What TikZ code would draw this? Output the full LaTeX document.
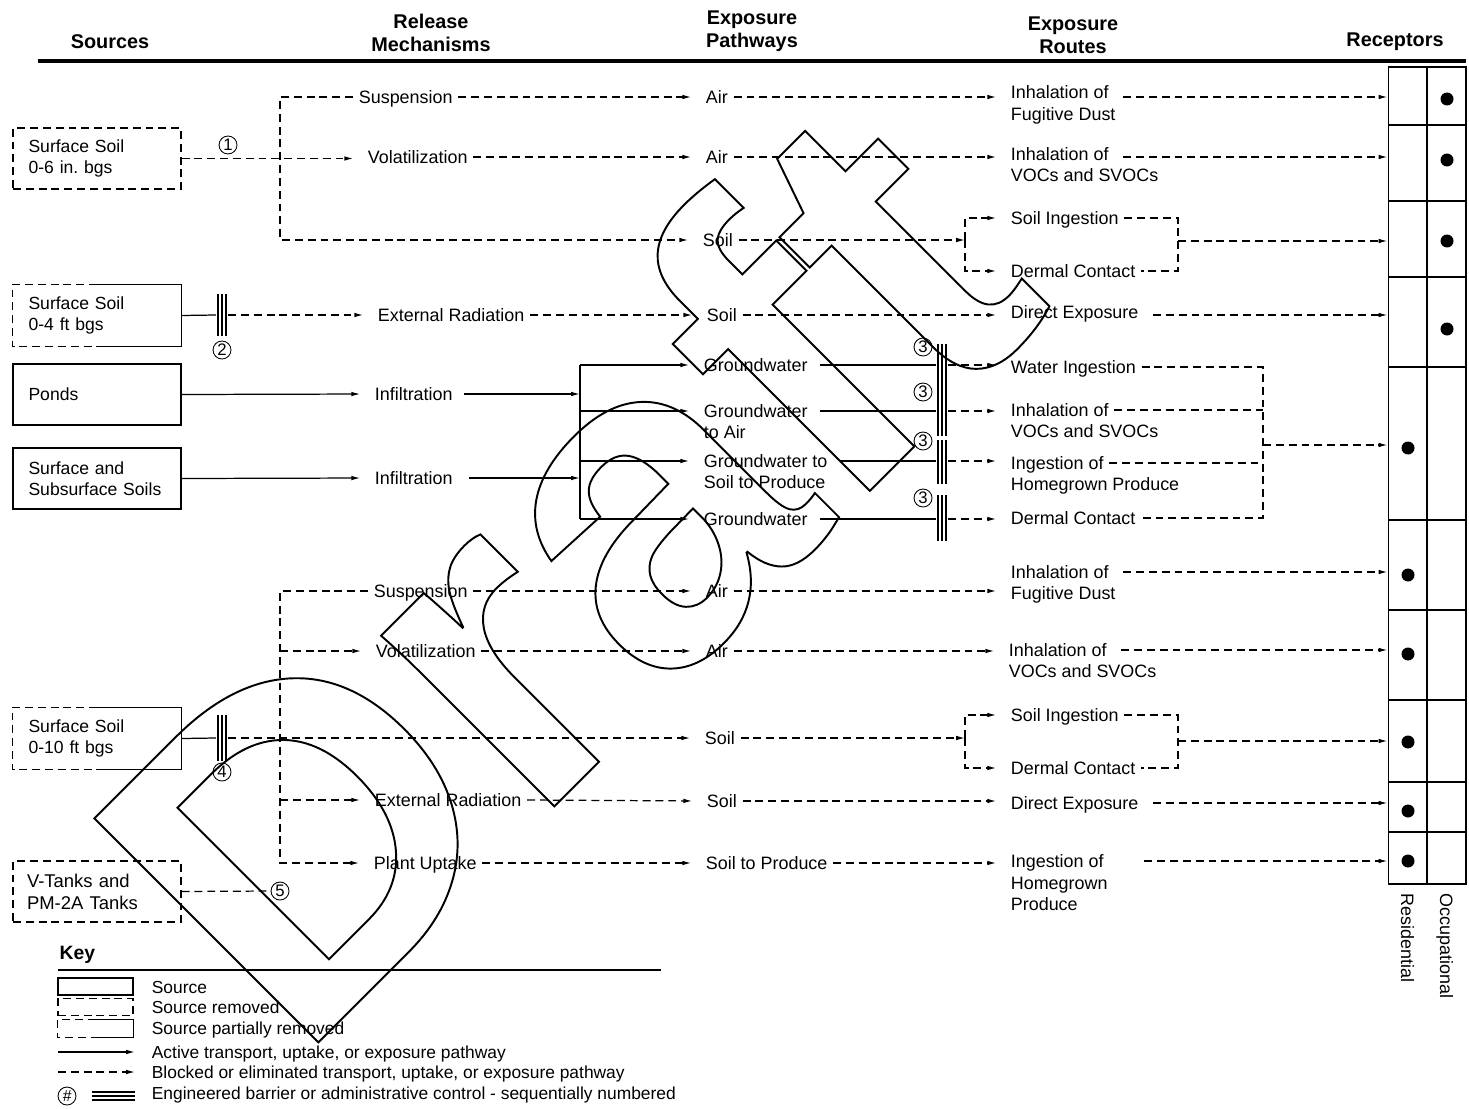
\documentclass[tikz,border=0pt]{standalone}
\usepackage{fontspec}
\setmainfont{Liberation Sans}
\usetikzlibrary{arrows.meta,positioning}
\newcommand\outlinetext[1]{\special{pdf:literal direct 1 Tr 1.1 w}#1\special{pdf:literal direct 0 Tr}}

\tikzset{
  lbl/.style={anchor=west, inner xsep=3pt, inner ysep=0pt, text height=8pt, text depth=0.8pt, font=\fontsize{10.2}{12.2}\selectfont},
  hdr/.style={align=center, font=\fontsize{11.3}{13}\selectfont\bfseries},
  src/.style={draw, minimum width=3.36cm, minimum height=1.22cm, text width=2.74cm, inner xsep=0.31cm, align=left, font=\fontsize{10}{12}\selectfont},
  srcd/.style={src, dsh},
  srcp/.style={src, draw=none},
  dsh/.style={dash pattern=on 4.5pt off 2.8pt},
  ar/.style={-{Latex[length=5pt,width=2.6pt]}},
  arl/.style={ar, shorten >=5pt},
  torec/.style={dsh, ar, shorten <=5pt},
  num/.style={circle, draw, line width=0.5pt, inner sep=0pt, minimum size=0.36cm, font=\fontsize{9.5}{9.5}\selectfont},
  bar/.style={minimum width=0.22cm, inner sep=0pt, path picture={
      \foreach \k in {-1,0,1}
        \draw[line width=1pt] ([xshift=\k*2.3pt]path picture bounding box.north) -- ([xshift=\k*2.3pt]path picture bounding box.south);}},
  barh/.style={minimum height=0.22cm, inner sep=0pt, path picture={
      \foreach \k in {-1,0,1}
        \draw[line width=1pt] ([yshift=\k*2.3pt]path picture bounding box.west) -- ([yshift=\k*2.3pt]path picture bounding box.east);}},
  cell/.style={draw, line width=0.6pt, minimum width=0.78cm, inner sep=0pt},
  dot/.style={circle, fill, inner sep=0pt, minimum size=0.26cm},
  keybox/.style={minimum width=1.5cm, minimum height=0.34cm, inner sep=0pt},
  keytxt/.style={lbl, font=\fontsize{9.9}{12}\selectfont}
}

\begin{document}
\begin{tikzpicture}[x=0.02cm, y=-0.02cm, line width=0.7pt]
\useasboundingbox (0,0) rectangle (1469,1108);

% watermark
\node[rotate=45, inner sep=0pt, font=\fontsize{262}{262}\selectfont\bfseries] (wmark) at (560,568) {\outlinetext{Draft}};

% column heads
\node[hdr] (hsrc) at (110,42) {Sources};
\node[hdr] (hrel) at (431,32.5) {Release\\Mechanisms};
\node[hdr] (hpath) at (752,31.5) {Exposure\\Pathways};
\node[hdr] (hroute) at (1073,35) {Exposure\\Routes};
\node[hdr] (hrec) at (1395,42) {Receptors};
\draw[line width=2.8pt] (38,61) -- (1466,61);

% receptor table
\foreach \i/\ya/\yb/\dx/\dy in {1/67/125/1447/99, 2/125/201/1447/160, 3/201/277/1447/241, 4/277/367/1447/329,
    5/367/520/1408/448, 6/520/610/1408/575, 7/610/700/1408/654, 8/700/782/1408/742, 9/782/832/1408/811, 10/832/884/1408/861}{
  \node[cell, minimum height={(\yb-\ya)*0.02cm}] (r\i) at (1407.5,{(\ya+\yb)/2}) {};
  \node[cell, minimum height={(\yb-\ya)*0.02cm}] (o\i) at (1446.5,{(\ya+\yb)/2}) {};
  \node[dot] (d\i) at (\dx,\dy) {};
}
\node[lbl, rotate=-90] (resl) at ([yshift=-0.06cm]r10.south) {Residential};
\node[lbl, rotate=-90] (occl) at ([yshift=-0.06cm]o10.south) {Occupational};

% sources
\node[srcd] (s1) at (97,158.5) {Surface Soil\\0-6 in.\ bgs};
\node[srcp] (s2) at (97,315.5) {Surface Soil\\0-4 ft bgs};
\node[src] (s3) at (97,394.5) {Ponds};
\node[src] (s4) at (97,478.5) {Surface and\\Subsurface Soils};
\node[srcp] (s5) at (97,738.5) {Surface Soil\\0-10 ft bgs};
\node[srcd, text width=2.8cm, inner xsep=0.28cm, font=\fontsize{10.5}{12.5}\selectfont] (s6) at (97,891.5) {V-Tanks and\\PM-2A Tanks};

% release mechanisms
\node[lbl] (susp1) at (353,97) {Suspension};
\node[lbl] (vol1) at (362,157) {Volatilization};
\node[lbl] (ext1) at (372,315) {External Radiation};
\node[lbl] (inf1) at (369,394) {Infiltration};
\node[lbl] (inf2) at (369,478) {Infiltration};
\node[lbl] (susp2) at (368,591) {Suspension};
\node[lbl] (vol2) at (370,651) {Volatilization};
\node[lbl] (ext2) at (369,800) {External Radiation};
\node[lbl] (plant) at (368,863) {Plant Uptake};

% exposure pathways
\node[lbl] (air1) at (700,97) {Air};
\node[lbl] (air2) at (700,157) {Air};
\node[lbl] (soil1) at (697,240) {Soil};
\node[lbl] (soil2) at (701,315) {Soil};
\node[lbl] (gw1) at (698,365) {Groundwater};
\node[lbl] (gw2) at (698,411) {Groundwater};
\node[lbl] (gw2b) at (698,432) {to Air};
\node[lbl] (gw3) at (698,461) {Groundwater to};
\node[lbl] (gw3b) at (698,482) {Soil to Produce};
\node[lbl] (gw4) at (698,519) {Groundwater};
\node[lbl] (air3) at (700,591) {Air};
\node[lbl] (air4) at (700,651) {Air};
\node[lbl] (soil3) at (699,738) {Soil};
\node[lbl] (soil4) at (701,801) {Soil};
\node[lbl] (stp) at (700,863) {Soil to Produce};

% exposure routes
\node[lbl] (inh1) at (1005,92) {Inhalation of};
\node[lbl] (inh1b) at (1005,114) {Fugitive Dust};
\node[lbl] (inh2) at (1005,154) {Inhalation of};
\node[lbl] (inh2b) at (1005,175) {VOCs and SVOCs};
\node[lbl] (sing1) at (1005,218) {Soil Ingestion};
\node[lbl] (derm1) at (1005,271) {Dermal Contact};
\node[lbl] (dir1) at (1005,312) {Direct Exposure};
\node[lbl] (wat1) at (1005,367) {Water Ingestion};
\node[lbl] (inh3) at (1005,410) {Inhalation of};
\node[lbl] (inh3b) at (1005,431) {VOCs and SVOCs};
\node[lbl] (ing1) at (1005,463) {Ingestion of};
\node[lbl] (ing1b) at (1005,484) {Homegrown Produce};
\node[lbl] (derm2) at (1005,518) {Dermal Contact};
\node[lbl] (inh4) at (1005,572) {Inhalation of};
\node[lbl] (inh4b) at (1005,593) {Fugitive Dust};
\node[lbl] (inh5) at (1003,650) {Inhalation of};
\node[lbl] (inh5b) at (1003,671) {VOCs and SVOCs};
\node[lbl] (sing2) at (1005,715) {Soil Ingestion};
\node[lbl] (derm3) at (1005,768) {Dermal Contact};
\node[lbl] (dir2) at (1005,803) {Direct Exposure};
\node[lbl] (ing2) at (1005,861) {Ingestion of};
\node[lbl] (ing2b) at (1005,883) {Homegrown};
\node[lbl] (ing2c) at (1005,904) {Produce};

% barriers and their numbers
\node[bar, minimum height=0.86cm] (b2) at (222,315) {};
\node[bar, minimum height=1.84cm] (b3a) at (942,390) {};
\node[bar, minimum height=0.88cm] (b3b) at (942,462) {};
\node[bar, minimum height=0.92cm] (b3c) at (942,518) {};
\node[bar, minimum height=0.92cm] (b4) at (222,738) {};
\node[num] (n1) at (228,145) {1};
\node[num] (n2) at (222,350) {2};
\node[num] (n3a) at (923,347) {3};
\node[num] (n3b) at (923,392) {3};
\node[num] (n3c) at (923,441) {3};
\node[num] (n3d) at (923,498) {3};
\node[num] (n4) at (222,772) {4};
\node[num] (n5) at (280,891) {5};

% bends
\coordinate (bus2) at (280,240);
\coordinate (bus4) at (280,863);
\coordinate (gwtop) at (580,365);
\coordinate (gwbot) at (580,519);
\coordinate (brk1) at (965,240);
\coordinate (brk2) at (1178,241);
\coordinate (brk3) at (1263,445);
\coordinate (brk4) at (965,738);
\coordinate (brk5) at (1178,741);

% partly removed sources
\draw[dsh] (s2.north) -- (s2.north west) -- (s2.south west) -- (s2.south);
\draw (s2.north) -- (s2.north east) -- (s2.south east) -- (s2.south);
\draw[dsh] (s5.north) -- (s5.north west) -- (s5.south west) -- (s5.south);
\draw (s5.north) -- (s5.north east) -- (s5.south east) -- (s5.south);

% surface soil 0-6 in.
\draw[dsh,arl] (s1.east) -- (s1.east -| vol1.west);
\draw[dsh,arl] (susp1.west) -| (bus2) -- (soil1.west);
\draw[dsh,arl] (susp1.east) -- (air1.west);
\draw[dsh,arl] (vol1.east) -- (air2.west);
\draw[dsh,arl] (air1.east) -- (air1.east -| inh1.west);
\draw[dsh,arl] (air2.east) -- (air2.east -| inh2.west);
\draw[torec] (inh1.east |- air1.east) -- (air1.east -| r1.west);
\draw[torec] (inh2.east |- air2.east) -- (air2.east -| r2.west);
\draw[dsh,ar] (soil1.east) -- (brk1);
\draw[dsh,arl] (brk1) |- (sing1.west);
\draw[dsh,arl] (brk1) |- (derm1.west);
\draw[dsh] (sing1.east) -| (brk2) |- (derm1.east);
\draw[dsh,ar] (brk2) -- (brk2 -| r3.west);

% surface soil 0-4 ft
\draw (s2.east) -- (b2.west);
\draw[dsh,arl] (b2.east) -- (ext1.west);
\draw[dsh,arl] (ext1.east) -- (soil2.west);
\draw[dsh,arl] (soil2.east) -- (soil2.east -| dir1.west);
\draw[torec] (dir1.east |- soil2.east) -- (soil2.east -| r4.west);

% ponds and soils to groundwater
\draw[arl] (s3.east) -- (inf1.west);
\draw[arl] (s4.east) -- (inf2.west);
\draw[ar, shorten <=3pt] (inf1.east) -- (inf1.east -| gwtop);
\draw[ar, shorten <=6pt] (inf2.east) -- (inf2.east -| gwtop);
\draw (gwtop) -- (gwbot);
\draw[arl] (gwtop) -- (gw1.west);
\draw[arl] (gwtop |- gw2.west) -- (gw2.west);
\draw[arl] (gwtop |- gw3.west) -- (gw3.west);
\draw[arl] (gwbot) -- (gw4.west);
\draw[shorten <=4pt] (gw1.east) -- (gw1.east -| b3a.west);
\draw[shorten <=4pt] (gw2.east) -- (gw2.east -| b3a.west);
\draw[shorten <=4pt] (gw3.east) -- (gw3.east -| b3b.west);
\draw[shorten <=4pt] (gw4.east) -- (gw4.east -| b3c.west);
\draw[dsh,arl] (gw1.east -| b3a.east) -- (gw1.east -| wat1.west);
\draw[dsh,arl] (gw2.east -| b3a.east) -- (gw2.east -| inh3.west);
\draw[dsh,arl] (gw3.east -| b3b.east) -- (gw3.east -| ing1.west);
\draw[dsh,arl] (gw4.east -| b3c.east) -- (gw4.east -| derm2.west);
\draw[dsh] (wat1.east) -| (brk3) |- (derm2.east);
\draw[dsh] (inh3.east) -- (inh3.east -| brk3);
\draw[dsh] (ing1.east) -- (ing1.east -| brk3);
\draw[dsh,ar] (brk3) -- (brk3 -| r5.west);

% surface soil 0-10 ft and tanks
\draw (s5.east) -- (b4.west);
\draw[dsh,arl] (b4.east) -- (soil3.west);
\draw[dsh,arl] (susp2.west) -| (bus4) -- (plant.west);
\draw[dsh,arl] (bus4 |- vol2.west) -- (vol2.west);
\draw[dsh,arl] (bus4 |- ext2.west) -- (ext2.west);
\draw[dsh] (s6.east) -- (n5.west);
\draw[dsh,arl] (susp2.east) -- (air3.west);
\draw[dsh,arl] (vol2.east) -- (air4.west);
\draw[dsh,arl] (ext2.east) -- (soil4.west);
\draw[dsh,arl] (plant.east) -- (stp.west);
\draw[dsh,arl] (air3.east) -- (air3.east -| inh4b.west);
\draw[torec] (inh4.east) -- (inh4.east -| r6.west);
\draw[dsh,arl] (air4.east) -- (air4.east -| inh5.west);
\draw[torec] (inh5.east) -- (inh5.east -| r7.west);
\draw[dsh,ar] (soil3.east) -- (brk4);
\draw[dsh,arl] (brk4) |- (sing2.west);
\draw[dsh,arl] (brk4) |- (derm3.west);
\draw[dsh] (sing2.east) -| (brk5) |- (derm3.east);
\draw[dsh,ar] (brk5) -- (brk5 -| r8.west);
\draw[dsh,arl] (soil4.east) -- (soil4.east -| dir2.west);
\draw[torec] (dir2.east) -- (dir2.east -| r9.west);
\draw[dsh,arl] (stp.east) -- (stp.east -| ing2.west);
\draw[dsh,ar,shorten <=0.7cm] (ing2.east) -- (ing2.east -| r10.west);

% key
\node[anchor=west, inner sep=0pt, font=\fontsize{11}{13}\selectfont\bfseries] (key) at (59,955) {Key};
\draw[line width=0.6pt] (58,970) -- (661,970);
\node[keybox, draw] (k1) at (95.5,986.5) {};
\node[keybox, draw, dsh] (k2) at (95.5,1007) {};
\node[keybox] (k3) at (95.5,1028.5) {};
\draw[dsh] (k3.north) -- (k3.north west) -- (k3.south west) -- (k3.south);
\draw (k3.north) -- (k3.north east) -- (k3.south east) -- (k3.south);
\coordinate (k4a) at (58,1052);
\coordinate (k4b) at (135,1052);
\coordinate (k5a) at (58,1072);
\coordinate (k5b) at (135,1072);
\draw[ar] (k4a) -- (k4b);
\draw[dsh,ar] (k5a) -- (k5b);
\node[num, font=\fontsize{9}{9}\selectfont\itshape] (k6) at (67,1096) {\#};
\node[barh, minimum width=0.86cm] (k6b) at (113.5,1096) {};
\node[keytxt] (kt1) at (146,987) {Source};
\node[keytxt] (kt2) at (146,1007) {Source removed};
\node[keytxt] (kt3) at (146,1028) {Source partially removed};
\node[keytxt] (kt4) at (146,1052) {Active transport, uptake, or exposure pathway};
\node[keytxt] (kt5) at (146,1072) {Blocked or eliminated transport, uptake, or exposure pathway};
\node[keytxt] (kt6) at (146,1093) {Engineered barrier or administrative control - sequentially numbered};
\end{tikzpicture}
\end{document}
